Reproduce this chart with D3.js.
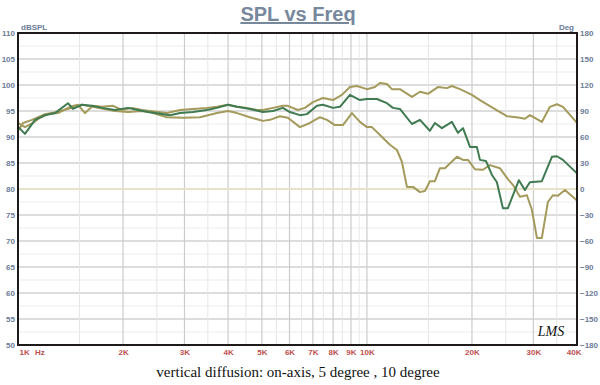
<!DOCTYPE html>
<html>
<head>
<meta charset="utf-8">
<script src="https://cdn.jsdelivr.net/npm/d3@7"></script>
<style>
  body { margin: 0; background: #fff; }
  svg { display: block; }
</style>
</head>
<body>
<div id="chart"></div>
<script>
// frequency (Hz), SPL (dB)
var onAxis = [
  [1000, 92.0], [1047, 90.6], [1119, 93.3], [1195, 94.2], [1276, 94.6], [1391, 96.5], [1437, 95.4],
  [1525, 96.2], [1629, 96.0], [1741, 95.6], [1897, 95.2], [2067, 95.6], [2207, 95.2], [2357, 94.8],
  [2469, 94.6], [2727, 94.2], [2912, 94.6], [3172, 94.8], [3479, 95.2], [3717, 95.6], [3998, 96.2],
  [4243, 95.8], [4621, 95.4], [5035, 94.8], [5380, 95.0], [5743, 95.6], [6014, 94.8], [6427, 94.2],
  [6730, 94.4], [7189, 96.0], [7480, 96.2], [7990, 95.6], [8366, 95.8], [8940, 98.1], [9549, 97.1],
  [10000, 97.3], [10680, 97.3], [11410, 96.5], [11870, 95.6], [12430, 95.4], [13460, 92.5], [14190, 93.3],
  [15150, 91.2], [15660, 92.7], [16400, 91.7], [17520, 92.9], [18230, 90.8], [18850, 91.7], [19740, 88.1],
  [20660, 88.1], [21080, 85.6], [21930, 85.4], [22820, 82.7], [23580, 81.3], [24530, 76.3], [25350, 76.3],
  [27260, 81.7], [28360, 79.8], [29310, 81.3], [31720, 81.5], [33900, 86.2], [35040, 86.3], [36450, 85.6],
  [40000, 83.0]
];

var deg5 = [
  [1000, 92.7], [1047, 91.9], [1104, 92.7], [1156, 93.7], [1219, 94.4], [1302, 94.6], [1409, 95.8],
  [1486, 96.2], [1556, 94.6], [1640, 96.0], [1741, 95.8], [1872, 96.0], [1986, 95.2], [2122, 95.6],
  [2266, 95.2], [2389, 95.0], [2673, 94.6], [2912, 95.2], [3172, 95.4], [3479, 95.6], [3717, 95.8],
  [3998, 96.2], [4243, 95.8], [4531, 95.6], [4839, 95.2], [5035, 95.2], [5380, 95.6], [5743, 96.0],
  [5935, 96.0], [6342, 95.2], [6642, 95.6], [7002, 96.7], [7480, 97.5], [7990, 97.1], [8478, 98.1],
  [8940, 99.6], [9362, 99.8], [10000, 99.2], [10540, 99.6], [10900, 100.4], [11410, 100.2], [11790, 99.2],
  [12430, 99.2], [13460, 97.7], [14190, 98.7], [14960, 98.3], [15970, 99.6], [16950, 99.4], [17520, 99.8],
  [18480, 99.2], [20000, 98.1], [21080, 97.1], [22960, 95.6], [25180, 94.0], [27440, 93.7], [28360, 93.5],
  [29310, 94.2], [31720, 92.9], [33450, 95.8], [35040, 96.3], [36450, 95.8], [40000, 92.7]
];

var deg10 = [
  [1000, 91.2], [1034, 92.7], [1097, 93.3], [1195, 94.4], [1293, 94.8], [1428, 95.6], [1525, 96.2],
  [1695, 95.6], [1897, 95.0], [2067, 94.8], [2266, 95.0], [2389, 94.8], [2673, 93.8], [2971, 93.7],
  [3323, 93.8], [3717, 94.6], [3998, 95.0], [4243, 94.6], [4621, 93.8], [5035, 93.1], [5274, 93.3],
  [5630, 94.0], [5935, 93.7], [6427, 91.9], [6865, 92.7], [7333, 93.8], [7680, 93.3], [8096, 92.3],
  [8534, 92.3], [9058, 94.6], [9549, 92.9], [10000, 91.9], [10330, 91.9], [10900, 90.4], [11640, 88.5],
  [12190, 87.5], [12600, 85.2], [13020, 80.4], [13550, 80.4], [14190, 79.4], [14660, 79.6], [15150, 81.5],
  [15660, 81.5], [16190, 84.0], [16730, 84.0], [18110, 86.2], [18850, 85.6], [19480, 85.6], [20400, 83.8],
  [21500, 83.7], [22510, 84.6], [24050, 84.0], [25350, 81.9], [26200, 80.8], [27440, 78.5], [28740, 78.8],
  [29700, 76.0], [30700, 70.6], [31720, 70.6], [33010, 77.5], [34120, 78.8], [35270, 78.7], [36940, 79.8],
  [40000, 77.8]
];

var series = [
  {name: "10 degree", data: deg10, color: "#a39a5b"},
  {name: "5 degree", data: deg5, color: "#a39a5b"},
  {name: "on-axis", data: onAxis, color: "#3f7a51"}
];

var splTicks = [110, 105, 100, 95, 90, 85, 80, 75, 70, 65, 60, 55, 50];
var degTicks = [180, 150, 120, 90, 60, 30, 0, -30, -60, -90, -120, -150, -180];
var freqTicks = [1000, 2000, 3000, 4000, 5000, 6000, 7000, 8000, 9000, 10000, 20000, 30000, 40000];
var freqLabels = ["1K", "2K", "3K", "4K", "5K", "6K", "7K", "8K", "9K", "10K", "20K", "30K", "40K"];
var freqMinor = [1500, 2500, 3500, 4500, 5500, 6500, 7500, 8500, 9500, 15000, 25000, 35000];

var width = 600, height = 385;
var margin = {top: 33, right: 23, bottom: 40, left: 18};
var w = width - margin.left - margin.right;
var h = height - margin.top - margin.bottom;

var svg = d3.select("#chart")
  .append("svg")
  .attr("width", width)
  .attr("height", height);

var g = svg.append("g")
  .attr("transform", "translate(" + margin.left + "," + margin.top + ")");

var x = d3.scaleLog().domain([1000, 40000]).range([0, w]);
var y = d3.scaleLinear().domain([50, 110]).range([h, 0]);
var yDeg = d3.scaleLinear().domain([-180, 180]).range([h, 0]);

//horizontal grid, minor every 2.5 dB and major every 5
g.selectAll(".hminor")
  .data(d3.range(52.5, 110, 5))
  .enter().append("line")
  .attr("x1", 0).attr("x2", w)
  .attr("y1", function(d) { return y(d); })
  .attr("y2", function(d) { return y(d); })
  .attr("stroke", "#ececec").attr("stroke-width", 1);

g.selectAll(".hmajor")
  .data(splTicks.slice(1, -1))
  .enter().append("line")
  .attr("x1", 0).attr("x2", w)
  .attr("y1", function(d) { return y(d); })
  .attr("y2", function(d) { return y(d); })
  .attr("stroke", "#d2d2d2").attr("stroke-width", 1.5);

//vertical grid
g.selectAll(".vminor")
  .data(freqMinor)
  .enter().append("line")
  .attr("y1", 0).attr("y2", h)
  .attr("x1", function(d) { return x(d); })
  .attr("x2", function(d) { return x(d); })
  .attr("stroke", "#e6e6e6").attr("stroke-width", 1);

g.selectAll(".vmajor")
  .data(freqTicks.slice(1, -1))
  .enter().append("line")
  .attr("y1", 0).attr("y2", h)
  .attr("x1", function(d) { return x(d); })
  .attr("x2", function(d) { return x(d); })
  .attr("stroke", "#cccccc").attr("stroke-width", 1.2);

//phase reference line (0 deg)
g.append("line")
  .attr("x1", 0).attr("x2", w)
  .attr("y1", yDeg(0)).attr("y2", yDeg(0))
  .attr("stroke", "#e8e3c6").attr("stroke-width", 2);

var line = d3.line()
  .x(function(d) { return x(d[0]); })
  .y(function(d) { return y(d[1]); });

g.selectAll(".curve")
  .data(series)
  .enter().append("path")
  .attr("class", "curve")
  .attr("d", function(d) { return line(d.data); })
  .attr("fill", "none")
  .attr("stroke", function(d) { return d.color; })
  .attr("stroke-width", 2)
  .attr("stroke-linejoin", "round");

//plot border
g.append("rect")
  .attr("x", 0).attr("y", 0)
  .attr("width", w).attr("height", h)
  .attr("fill", "none")
  .attr("stroke", "#1e1a1a")
  .attr("stroke-width", 2);

var tickFont = "Arial, 'Liberation Sans', sans-serif";

//left axis
var yAxis = d3.axisLeft(y).tickValues(splTicks).tickSize(0).tickPadding(3);
var ya = g.append("g").call(yAxis);
ya.select(".domain").remove();
ya.selectAll("text")
  .attr("fill", "#6b7b98")
  .style("font", "bold 8px " + tickFont);

//right axis
var yDegAxis = d3.axisRight(yDeg).tickValues(degTicks).tickSize(0).tickPadding(3);
var yr = g.append("g").attr("transform", "translate(" + w + ",0)").call(yDegAxis);
yr.select(".domain").remove();
yr.selectAll("text")
  .attr("fill", "#6b7b98")
  .style("font", "bold 8px " + tickFont);

//bottom axis
var xAxis = d3.axisBottom(x).tickValues(freqTicks)
  .tickFormat(function(d, i) { return freqLabels[i]; })
  .tickSize(0).tickPadding(4);
var xa = g.append("g").attr("transform", "translate(0," + h + ")").call(xAxis);
xa.select(".domain").remove();
xa.selectAll("text")
  .attr("fill", "#c0504f")
  .style("font", "bold 8px " + tickFont);
xa.selectAll(".tick text").filter(function(d) { return d === 1000; })
  .attr("text-anchor", "start").attr("x", 1);
xa.selectAll(".tick text").filter(function(d) { return d === 40000; })
  .attr("text-anchor", "end").attr("x", 4);

xa.append("text")
  .attr("x", 17).attr("y", 4).attr("dy", "0.71em")
  .attr("text-anchor", "start")
  .attr("fill", "#c0504f")
  .style("font", "bold 8px " + tickFont)
  .text("Hz");

//unit labels
svg.append("text")
  .attr("x", margin.left + 3).attr("y", margin.top - 3)
  .attr("fill", "#6b7b98")
  .style("font", "bold 8px " + tickFont)
  .text("dBSPL");

svg.append("text")
  .attr("x", margin.left + w - 3).attr("y", margin.top - 3)
  .attr("text-anchor", "end")
  .attr("fill", "#6b7b98")
  .style("font", "bold 8px " + tickFont)
  .text("Deg");

//title
svg.append("text")
  .attr("x", 298).attr("y", 21)
  .attr("text-anchor", "middle")
  .attr("fill", "#77889c")
  .attr("text-decoration", "underline")
  .style("font", "bold 20px " + tickFont)
  .text("SPL vs Freq");

//caption
svg.append("text")
  .attr("x", 298).attr("y", 377)
  .attr("text-anchor", "middle")
  .attr("fill", "#111")
  .style("font", "15px 'Liberation Serif', 'DejaVu Serif', serif")
  .text("vertical diffusion: on-axis, 5 degree , 10 degree");

//LMS mark
svg.append("text")
  .attr("x", 551).attr("y", 336)
  .attr("text-anchor", "middle")
  .attr("fill", "#111")
  .style("font", "italic 14px 'Liberation Serif', serif")
  .text("LMS");
</script>
</body>
</html>
